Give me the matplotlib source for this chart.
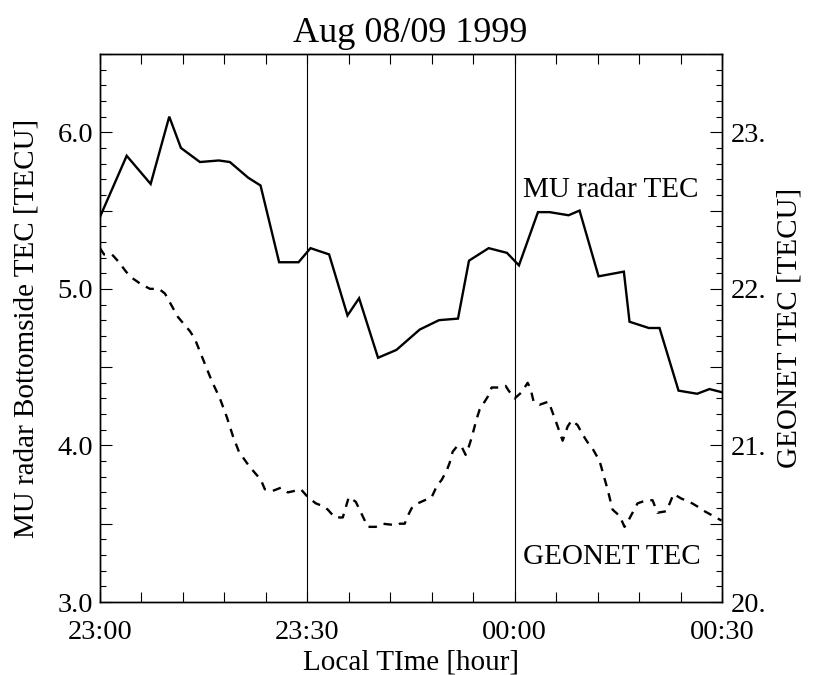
import numpy as np
import matplotlib
matplotlib.use("Agg")
import matplotlib.pyplot as plt
from matplotlib.ticker import MultipleLocator, FuncFormatter

plt.rcParams['font.family'] = ['Liberation Serif', 'DejaVu Serif']
plt.rcParams['lines.scale_dashes'] = False

# ---- data (minutes after 23:00 local time) ----
mu_time = [0.00, 3.86, 7.33, 10.02, 11.71, 14.46, 17.20, 18.79, 21.44, 23.23,
           25.92, 28.73, 30.46, 33.15, 35.81, 37.49, 40.23, 42.89, 46.26, 49.05,
           51.80, 53.39, 56.24, 58.88, 60.62, 63.37, 65.06, 67.80, 69.39, 72.14,
           75.80, 76.62, 79.41, 80.96, 83.71, 86.41, 88.19, 89.97]
mu_tec = [5.46, 5.85, 5.67, 6.10, 5.90, 5.81, 5.82, 5.81, 5.71, 5.66,
          5.17, 5.17, 5.26, 5.22, 4.83, 4.94, 4.56, 4.61, 4.74, 4.80,
          4.81, 5.18, 5.26, 5.23, 5.15, 5.49, 5.49, 5.47, 5.50, 5.08,
          5.11, 4.79, 4.75, 4.75, 4.35, 4.33, 4.36, 4.34]

geo_time = [0.00, 0.58, 1.73, 2.75, 3.76, 4.63, 5.93, 7.23, 8.53, 9.40,
            11.28, 13.01, 13.73, 15.18, 16.19, 17.35, 18.36, 19.23, 20.10, 21.54,
            23.28, 23.85, 25.01, 26.17, 27.18, 28.19, 29.06, 30.07, 31.23, 32.38,
            32.96, 33.97, 35.13, 36.00, 37.01, 38.75, 39.90, 40.91, 42.94, 43.37,
            44.09, 44.53, 45.11, 45.97, 46.99, 48.00, 48.72, 49.44, 50.17, 50.60,
            51.03, 51.76, 52.34, 52.91, 53.35, 53.78, 54.50, 54.94, 55.52, 56.09,
            56.67, 57.39, 57.97, 58.70, 59.13, 60.00, 61.01, 61.88, 62.31, 62.74,
            63.61, 64.91, 66.07, 66.94, 67.66, 68.24, 69.10, 69.83, 70.55, 71.27,
            72.29, 73.44, 74.17, 75.18, 75.90, 76.33, 77.78, 79.08, 79.95, 80.67,
            81.97, 82.99, 84.14, 85.30, 86.45, 87.47, 89.93]
geo_tec = [22.26, 22.22, 22.22, 22.17, 22.11, 22.07, 22.03, 22.00, 22.00, 21.97,
           21.82, 21.73, 21.68, 21.52, 21.41, 21.30, 21.18, 21.06, 20.96, 20.87,
           20.78, 20.72, 20.71, 20.73, 20.70, 20.71, 20.72, 20.67, 20.63, 20.61,
           20.59, 20.54, 20.54, 20.67, 20.64, 20.48, 20.48, 20.50, 20.49, 20.50,
           20.50, 20.55, 20.60, 20.63, 20.65, 20.67, 20.74, 20.78, 20.84, 20.89,
           20.96, 21.00, 20.99, 20.94, 20.99, 21.05, 21.17, 21.23, 21.27, 21.31,
           21.37, 21.37, 21.37, 21.38, 21.35, 21.30, 21.34, 21.40, 21.36, 21.28,
           21.26, 21.28, 21.14, 21.03, 21.12, 21.16, 21.13, 21.07, 21.02, 20.98,
           20.90, 20.72, 20.59, 20.55, 20.48, 20.51, 20.63, 20.65, 20.65, 20.57,
           20.58, 20.69, 20.66, 20.64, 20.61, 20.58, 20.52]

x_tick_pos = [0, 30, 60, 90]
x_tick_labels = ['23:00', '23:30', '00:00', '00:30']
left_tick_pos = [3.0, 4.0, 5.0, 6.0]
left_tick_labels = ['3.0', '4.0', '5.0', '6.0']
right_tick_pos = [20.0, 21.0, 22.0, 23.0]
right_tick_labels = ['20.', '21.', '22.', '23.']
marker_times = [30, 60]

# ---- figure ----
W, H = 814, 675
fig = plt.figure(figsize=(W / 100, H / 100), dpi=100)
ax = fig.add_axes([100 / W, 1 - 602 / H, 622 / W, 548 / H])
ax2 = ax.twinx()

ax.plot(mu_time, mu_tec, color='black', lw=1.7, solid_joinstyle='miter')
ax2.plot(geo_time, geo_tec, color='black', lw=1.7, dashes=(6.1, 5.2))

for t in marker_times:
    ax.axvline(t, color='black', lw=0.8)

ax.set_xlim(0, 90)
ax.set_ylim(3.0, 6.5)
ax2.set_ylim(20.0, 23.5)

# x ticks
ax.xaxis.set_major_locator(MultipleLocator(6))
lbl_x = dict(zip(x_tick_pos, x_tick_labels))
ax.xaxis.set_major_formatter(FuncFormatter(lambda v, p: lbl_x.get(int(round(v)), '') if abs(v - round(v)) < 1e-6 else ''))
ax.tick_params(axis='x', which='major', direction='in', length=7, width=0.8,
               top=True, bottom=True, labelsize=20.5, pad=13)

# left y ticks
lbl_l = dict(zip([round(v, 1) for v in left_tick_pos], left_tick_labels))
ax.yaxis.set_major_locator(MultipleLocator(0.5))
ax.yaxis.set_minor_locator(MultipleLocator(0.1))
ax.yaxis.set_major_formatter(FuncFormatter(lambda v, p: lbl_l.get(round(v, 1), '')))
ax.tick_params(axis='y', which='major', direction='in', length=8.6, width=0.8,
               left=True, right=False, labelsize=20.5, pad=5)
ax.tick_params(axis='y', which='minor', direction='in', length=4.3, width=0.8,
               left=True, right=False)

# right y ticks
lbl_r = dict(zip([round(v, 1) for v in right_tick_pos], right_tick_labels))
ax2.yaxis.set_major_locator(MultipleLocator(0.5))
ax2.yaxis.set_minor_locator(MultipleLocator(0.1))
ax2.yaxis.set_major_formatter(FuncFormatter(lambda v, p: lbl_r.get(round(v, 1), '')))
ax2.tick_params(axis='y', which='major', direction='in', length=8.6, width=0.8,
                labelsize=20.5, pad=6)
ax2.tick_params(axis='y', which='minor', direction='in', length=4.3, width=0.8)

for a in (ax, ax2):
    for s in a.spines.values():
        s.set_linewidth(1.0)
        s.set_color('black')

ax.set_xlabel('Local TIme [hour]', fontsize=21, labelpad=3)
ax.set_ylabel('MU radar Bottomside TEC [TECU]', fontsize=21)
ax.yaxis.set_label_coords(-0.0965, 0.5)
ax2.set_ylabel('GEONET TEC [TECU]', fontsize=21)
ax2.yaxis.set_label_coords(1.087, 0.5)

ax.text(61.15, 5.586, 'MU radar TEC', fontsize=21, va='baseline', ha='left')
ax.text(61.15, 3.242, 'GEONET TEC', fontsize=21, va='baseline', ha='left')

fig.text(410.5 / W, 1 - 42 / H, 'Aug 08/09 1999', fontsize=26, ha='center', va='baseline')

fig.savefig('out.png', dpi=100)
